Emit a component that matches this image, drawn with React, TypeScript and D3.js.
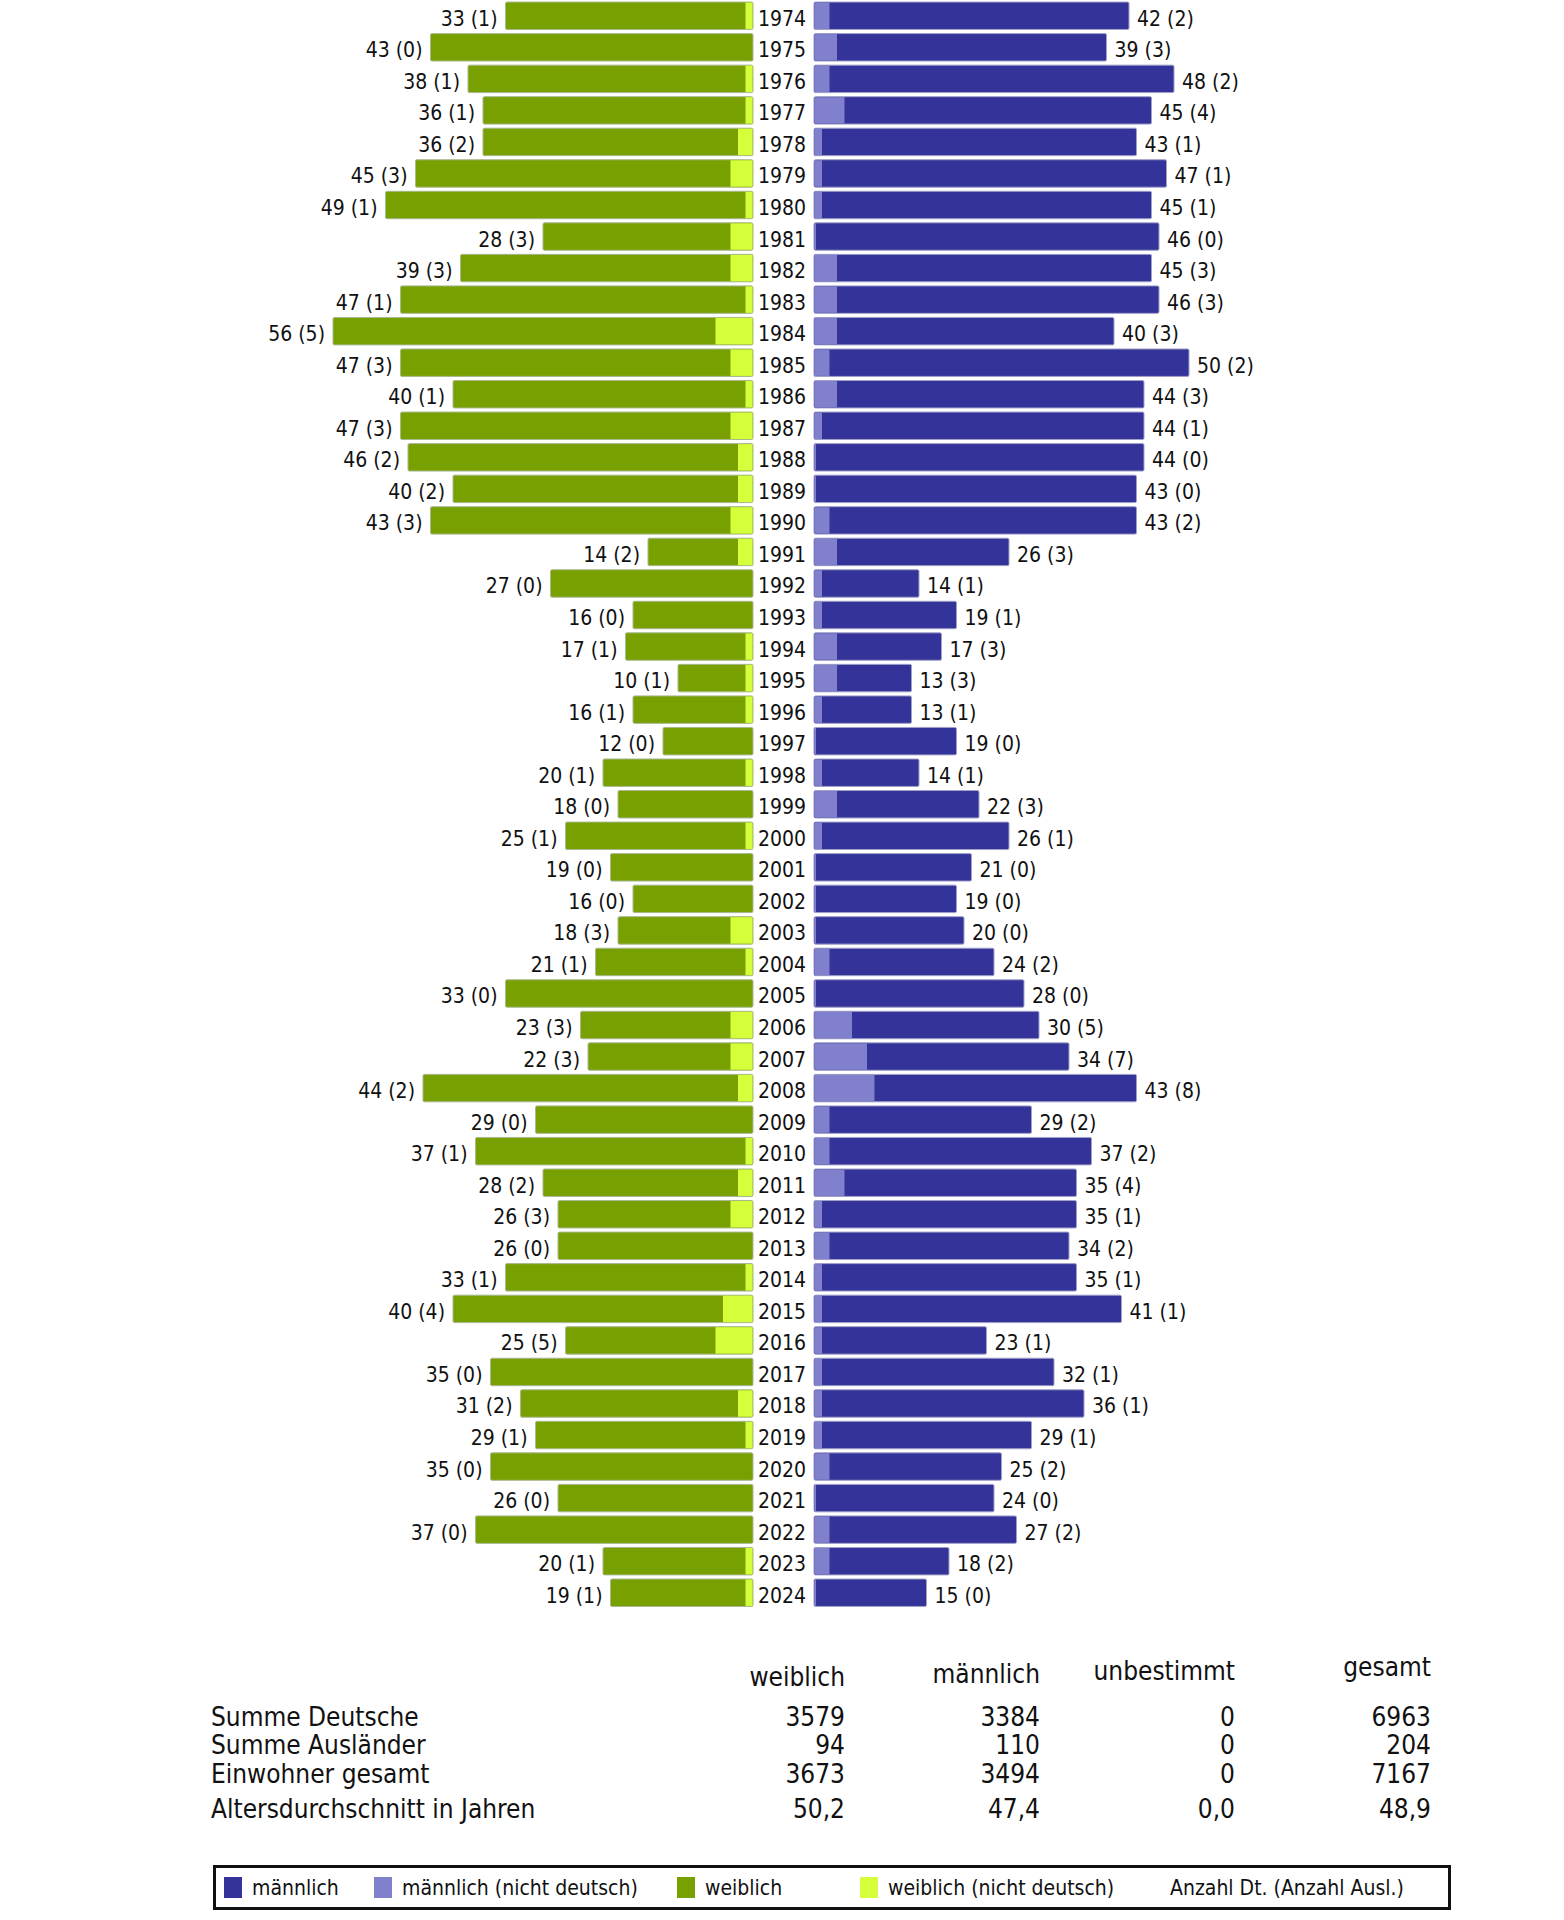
import { useEffect, useRef } from "react";
import * as d3 from "d3";

// Geburtsjahrgänge (1974 - 2024)
const years = [
  "1974", "1975", "1976", "1977", "1978", "1979", "1980", "1981", "1982", "1983",
  "1984", "1985", "1986", "1987", "1988", "1989", "1990", "1991", "1992", "1993",
  "1994", "1995", "1996", "1997", "1998", "1999", "2000", "2001", "2002", "2003",
  "2004", "2005", "2006", "2007", "2008", "2009", "2010", "2011", "2012", "2013",
  "2014", "2015", "2016", "2017", "2018", "2019", "2020", "2021", "2022", "2023",
  "2024",
];

// weiblich: Anzahl Dt. / Anzahl Ausl.
const femaleDt = [
  33, 43, 38, 36, 36, 45, 49, 28, 39, 47,
  56, 47, 40, 47, 46, 40, 43, 14, 27, 16,
  17, 10, 16, 12, 20, 18, 25, 19, 16, 18,
  21, 33, 23, 22, 44, 29, 37, 28, 26, 26,
  33, 40, 25, 35, 31, 29, 35, 26, 37, 20,
  19,
];
const femaleAusl = [
  1, 0, 1, 1, 2, 3, 1, 3, 3, 1,
  5, 3, 1, 3, 2, 2, 3, 2, 0, 0,
  1, 1, 1, 0, 1, 0, 1, 0, 0, 3,
  1, 0, 3, 3, 2, 0, 1, 2, 3, 0,
  1, 4, 5, 0, 2, 1, 0, 0, 0, 1,
  1,
];

// männlich: Anzahl Dt. / Anzahl Ausl.
const maleDt = [
  42, 39, 48, 45, 43, 47, 45, 46, 45, 46,
  40, 50, 44, 44, 44, 43, 43, 26, 14, 19,
  17, 13, 13, 19, 14, 22, 26, 21, 19, 20,
  24, 28, 30, 34, 43, 29, 37, 35, 35, 34,
  35, 41, 23, 32, 36, 29, 25, 24, 27, 18,
  15,
];
const maleAusl = [
  2, 3, 2, 4, 1, 1, 1, 0, 3, 3,
  3, 2, 3, 1, 0, 0, 2, 3, 1, 1,
  3, 3, 1, 0, 1, 3, 1, 0, 0, 0,
  2, 0, 5, 7, 8, 2, 2, 4, 1, 2,
  1, 1, 1, 1, 1, 1, 2, 0, 2, 2,
  0,
];

// Tabelle unter der Pyramide
const tableHeaders = ["weiblich", "männlich", "unbestimmt", "gesamt"];
const tableRowLabels = [
  "Summe Deutsche",
  "Summe Ausländer",
  "Einwohner gesamt",
  "Altersdurchschnitt in Jahren",
];
const colWeiblich = ["3579", "94", "3673", "50,2"];
const colMaennlich = ["3384", "110", "3494", "47,4"];
const colUnbestimmt = ["0", "0", "0", "0,0"];
const colGesamt = ["6963", "204", "7167", "48,9"];

const legendLabels = [
  "männlich",
  "männlich (nicht deutsch)",
  "weiblich",
  "weiblich (nicht deutsch)",
  "Anzahl Dt. (Anzahl Ausl.)",
];

const FONT = "'DejaVu Sans Condensed', 'DejaVu Sans', sans-serif";
const BLUE = "#333399";
const BLUE_LIGHT = "#8080cc";
const GREEN = "#78a000";
const GREEN_LIGHT = "#d4ff3a";

const App = () => {
  const ref = useRef<SVGSVGElement | null>(null);

  useEffect(() => {
    const width = 1564;
    const height = 1920;
    const svg = d3.select(ref.current);
    svg.selectAll("*").remove();
    svg.attr("width", width).attr("height", height);

    const rows = years.map((year, i) => ({
      year,
      fDt: femaleDt[i],
      fAu: femaleAusl[i],
      mDt: maleDt[i],
      mAu: maleAusl[i],
    }));

    // Zeilen
    const y = d3.scaleBand()
      .domain(years)
      .range([0, 1608.5])
      .paddingInner(0.13)
      .paddingOuter(0.065);

    // linke Seite (weiblich) wächst nach links, rechte Seite (männlich) nach rechts
    const xF = d3.scaleLinear().domain([0, 60]).range([753, 753 - 450]);
    const xM = d3.scaleLinear().domain([0, 60]).range([814, 814 + 450]);

    const g = svg.append("g").attr("font-family", FONT).attr("font-stretch", "condensed");

    const row = g.selectAll("g.row")
      .data(rows)
      .enter().append("g")
      .attr("class", "row");

    const bw = y.bandwidth();

    // weiblich
    row.append("rect")
      .attr("x", d => xF(d.fDt))
      .attr("y", d => y(d.year)!)
      .attr("width", d => xF(0) - xF(d.fDt))
      .attr("height", bw)
      .attr("rx", 1.5)
      .attr("fill", GREEN)
      .attr("stroke", "#a8b890")
      .attr("stroke-width", 1);
    row.filter(d => d.fAu > 0).append("rect")
      .attr("x", d => xF(d.fAu))
      .attr("y", d => y(d.year)! + 0.5)
      .attr("width", d => xF(0) - xF(d.fAu) - 0.5)
      .attr("height", bw - 1)
      .attr("fill", GREEN_LIGHT);

    // männlich
    row.append("rect")
      .attr("x", xM(0))
      .attr("y", d => y(d.year)!)
      .attr("width", d => xM(d.mDt) - xM(0))
      .attr("height", bw)
      .attr("rx", 1.5)
      .attr("fill", BLUE)
      .attr("stroke", "#a0a0c8")
      .attr("stroke-width", 1);
    row.append("rect")
      .attr("x", xM(0) + 0.5)
      .attr("y", d => y(d.year)! + 0.5)
      .attr("width", d => Math.max(xM(d.mAu) - xM(0), 1.5))
      .attr("height", bw - 1)
      .attr("fill", BLUE_LIGHT);

    // Beschriftungen
    const baseline = (d: { year: string }) => y(d.year)! + bw / 2 + 10;
    row.append("text")
      .attr("x", d => xF(d.fDt) - 8)
      .attr("y", baseline)
      .attr("text-anchor", "end")
      .attr("font-size", 21)
      .attr("fill", "#111")
      .text(d => `${d.fDt} (${d.fAu})`);
    row.append("text")
      .attr("x", d => xM(d.mDt) + 8)
      .attr("y", baseline)
      .attr("font-size", 21)
      .attr("fill", "#111")
      .text(d => `${d.mDt} (${d.mAu})`);
    row.append("text")
      .attr("x", 782)
      .attr("y", baseline)
      .attr("text-anchor", "middle")
      .attr("font-size", 21)
      .attr("fill", "#111")
      .text(d => d.year);

    // Tabelle
    const colRight = [845, 1040, 1235, 1431];
    const headerY = [1686, 1683, 1680, 1676];
    const rowY = [1726, 1754, 1783, 1818];
    const columns = [colWeiblich, colMaennlich, colUnbestimmt, colGesamt];
    const table = g.append("g").attr("font-size", 26).attr("fill", "#111");

    tableHeaders.forEach((h, c) => {
      table.append("text")
        .attr("x", colRight[c])
        .attr("y", headerY[c])
        .attr("text-anchor", "end")
        .text(h);
    });
    tableRowLabels.forEach((label, r) => {
      table.append("text").attr("x", 211).attr("y", rowY[r]).text(label);
      columns.forEach((col, c) => {
        table.append("text")
          .attr("x", colRight[c])
          .attr("y", rowY[r])
          .attr("text-anchor", "end")
          .text(col[r]);
      });
    });

    // Legende
    const legend = g.append("g");
    legend.append("rect")
      .attr("x", 214.5)
      .attr("y", 1866.5)
      .attr("width", 1235)
      .attr("height", 42)
      .attr("fill", "#fff")
      .attr("stroke", "#111")
      .attr("stroke-width", 3);
    const swatchX = [224, 374, 677, 860, null];
    const textX = [252, 402, 705, 888, 1170];
    const swatchColors = [BLUE, BLUE_LIGHT, GREEN, GREEN_LIGHT, null];
    legendLabels.forEach((label, i) => {
      const sx = swatchX[i];
      const col = swatchColors[i];
      if (sx !== null && col !== null) {
        legend.append("rect")
          .attr("x", sx)
          .attr("y", 1877)
          .attr("width", 18)
          .attr("height", 21)
          .attr("fill", col);
      }
      legend.append("text")
        .attr("x", textX[i])
        .attr("y", 1895)
        .attr("font-size", 21)
        .attr("fill", "#111")
        .text(label);
    });
  }, []);

  return (
    <svg
      ref={ref}
      style={{ position: "absolute", left: 0, top: 0, display: "block", background: "#fff" }}
    />
  );
};

export default App;
